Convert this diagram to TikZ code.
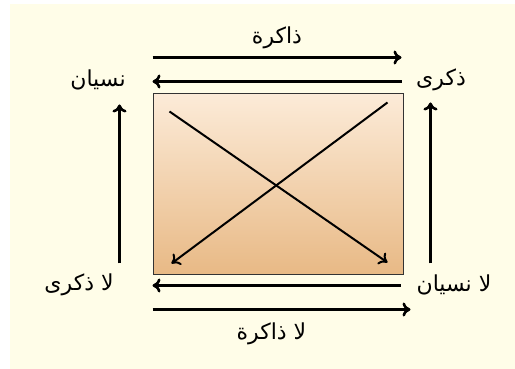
\documentclass[tikz,border=0pt]{standalone}
\usepackage{fontspec}
\usetikzlibrary{arrows.meta,calc}
\newfontfamily\arabicfont[Script=Arabic]{DejaVu Sans}
\TeXXeTstate=1
\definecolor{paper}{HTML}{FFFDE8}
\definecolor{boxtop}{HTML}{FCEBD8}
\definecolor{boxbottom}{HTML}{E8B985}
\newcommand{\ar}[1]{{\arabicfont\beginR #1\endR}}

\begin{document}
\begin{tikzpicture}[x=1pt, y=1pt, >={To[length=8pt,width=14pt]},
    every node/.style={inner sep=1pt, font=\fontsize{22}{24}\selectfont},
    flow/.style={->, line width=2.6pt},
    cross/.style={->, line width=2pt},
    panel/.style={draw=black!80, line width=1pt, top color=boxtop,
      bottom color=boxbottom, minimum width=250pt, minimum height=181pt}]
  \useasboundingbox (0,0) rectangle (515,369);
  \fill[paper] (10,0) rectangle (515,365);

  \node[panel] (box) at (278,184.5) {};

  % corner labels
  \node (nisyan) at (98,289) {\ar{نسيان}};
  \node (dhikra) at (441,289) {\ar{ذكرى}};
  \node (ladhikra) at (79,84) {\ar{لا ذكرى}};
  \node (lanisyan) at (454,84) {\ar{لا نسيان}};

  % top pair
  \draw[flow] ($(box.north west)+(0,36)$) -- node[above=6pt] (dhakira) {\ar{ذاكرة}}
    ($(box.north east)+(-2,36)$);
  \draw[flow] ($(box.north east)+(-2,12)$) -- ($(box.north west)+(0,12)$);

  % bottom pair
  \draw[flow] ($(box.south east)+(-3,-10)$) -- ($(box.south west)+(0,-10)$);
  \draw[flow] ($(box.south west)+(0,-34)$) -- node[below=11pt, xshift=-10pt] (ladhakira) {\ar{لا ذاكرة}}
    ($(box.south east)+(7,-34)$);

  % sides
  \draw[flow] ($(box.south west)+(-33,12)$) -- ($(box.north west)+(-33,-11)$);
  \draw[flow] ($(box.south east)+(27,12)$) -- ($(box.north east)+(27,-9)$);

  % diagonals
  \draw[cross] ($(box.north west)+(17,-18)$) -- ($(box.south east)+(-16,13)$);
  \draw[cross] ($(box.north east)+(-16,-9)$) -- ($(box.south west)+(19,12)$);
\end{tikzpicture}
\end{document}
